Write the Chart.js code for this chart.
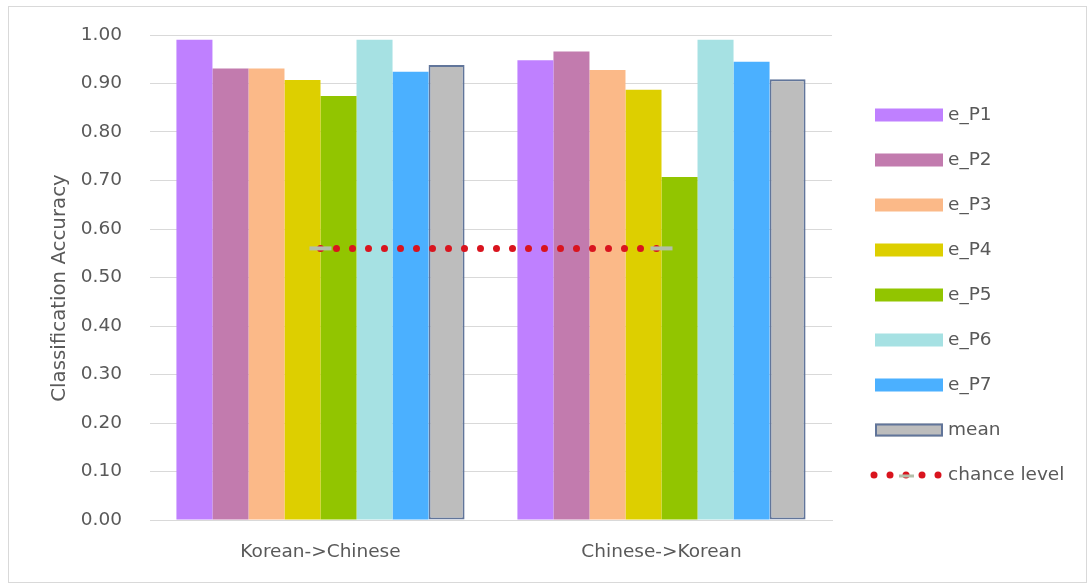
<!DOCTYPE html>
<html>
<head>
<meta charset="utf-8">
<title>Classification Accuracy</title>
<script src="https://cdn.jsdelivr.net/npm/chart.js@4.4.0/dist/chart.umd.min.js"></script>
<style>
    html, body { margin: 0; padding: 0; background: #ffffff; }
    #wrap { position: relative; width: 1089px; height: 583px; }
    #frame { position: absolute; left: 8px; top: 6px; width: 1077px; height: 575px; border: 1px solid #d9d9d9; pointer-events: none; }
</style>
</head>
<body>
<div id="wrap">
    <canvas id="accChart" width="1089" height="583"></canvas>
    <div id="frame"></div>
</div>
<script>
// Data
const categories = ['Korean->Chinese', 'Chinese->Korean'];
const seriesNames = ['e_P1', 'e_P2', 'e_P3', 'e_P4', 'e_P5', 'e_P6', 'e_P7', 'mean'];
const eP1 = [0.990, 0.948];
const eP2 = [0.931, 0.966];
const eP3 = [0.931, 0.928];
const eP4 = [0.907, 0.887];
const eP5 = [0.874, 0.707];
const eP6 = [0.990, 0.990];
const eP7 = [0.924, 0.945];
const meanAcc = [0.938, 0.909];
const chanceLevel = [0.56, 0.56];
const yTicks = [0, 0.1, 0.2, 0.3, 0.4, 0.5, 0.6, 0.7, 0.8, 0.9, 1.0];
const yTitle = 'Classification Accuracy';

const seriesValues = [eP1, eP2, eP3, eP4, eP5, eP6, eP7, meanAcc];
const seriesColors = ['#bf80ff', '#c27bae', '#fbb988', '#ddcf00', '#92c500', '#a6e1e3', '#4bb0ff', '#bdbdbd'];
const meanBorder = '#61759a';
const chanceRed = '#d9141e';
const chanceMarker = '#b3bfaa';
const textColor = '#595959';
const gridColor = '#d9d9d9';
const fontFamily = '"DejaVu Sans", sans-serif';
const labelSize = 18.5;

Chart.defaults.font.family = fontFamily;
Chart.defaults.font.size = labelSize;
Chart.defaults.color = textColor;

// Legend and axis title drawn Excel style
const sideLegend = {
    id: 'sideLegend',
    afterDraw(chart) {
        const ctx = chart.ctx;
        const boxX = 875, boxW = 68, boxH = 13;
        const textX = 948;
        const top = 115, step = 45;

        ctx.save();
        ctx.font = labelSize + 'px ' + fontFamily;
        ctx.textBaseline = 'middle';

        seriesNames.forEach((name, i) => {
            const y = top + i * step;
            ctx.fillStyle = seriesColors[i];
            ctx.fillRect(boxX, y - boxH / 2, boxW, boxH);
            if (name === 'mean') {
                ctx.strokeStyle = meanBorder;
                ctx.lineWidth = 2;
                ctx.strokeRect(boxX + 1, y - boxH / 2 + 1, boxW - 2, boxH - 2);
            }
            ctx.fillStyle = textColor;
            ctx.fillText(name, textX, y);
        });

        // chance level entry: red dots with the grey marker in the middle
        const y = top + seriesNames.length * step;
        ctx.fillStyle = chanceRed;
        [874, 890, 906, 922, 938].forEach(cx => {
            ctx.beginPath();
            ctx.arc(cx, y, 3.5, 0, Math.PI * 2);
            ctx.fill();
        });
        ctx.strokeStyle = chanceMarker;
        ctx.lineWidth = 3;
        ctx.beginPath();
        ctx.moveTo(899, y + 1);
        ctx.lineTo(914, y + 1);
        ctx.stroke();

        ctx.fillStyle = textColor;
        ctx.fillText('chance level', textX, y);

        // y axis title, centred a little below the plot centre like the original
        ctx.font = '19.8px ' + fontFamily;
        ctx.textAlign = 'center';
        ctx.translate(60, 288);
        ctx.rotate(-Math.PI / 2);
        ctx.fillText(yTitle, 0, 0);
        ctx.restore();
    }
};

const barDatasets = seriesNames.map((name, i) => ({
    type: 'bar',
    label: name,
    data: seriesValues[i],
    backgroundColor: seriesColors[i],
    borderColor: name === 'mean' ? meanBorder : seriesColors[i],
    borderWidth: name === 'mean' ? 2 : 0,
    borderSkipped: false,
    order: 1
}));

const chanceDataset = {
    type: 'line',
    label: 'chance level',
    data: chanceLevel,
    borderColor: chanceRed,
    borderWidth: 7,
    borderDash: [0, 16],
    borderCapStyle: 'round',
    fill: false,
    pointStyle: 'line',
    pointRadius: 11,
    pointBorderWidth: 4,
    pointBorderColor: chanceMarker,
    pointBackgroundColor: chanceMarker,
    order: 0
};

new Chart(document.getElementById('accChart'), {
    type: 'bar',
    data: {
        labels: categories,
        datasets: [...barDatasets, chanceDataset]
    },
    options: {
        responsive: false,
        animation: false,
        layout: {
            padding: { top: 35, right: 257, bottom: 0, left: 0 }
        },
        datasets: {
            bar: {
                categoryPercentage: 0.845,
                barPercentage: 1.0
            }
        },
        plugins: {
            legend: { display: false },
            tooltip: { enabled: false }
        },
        scales: {
            x: {
                grid: { display: false },
                border: { display: true, color: gridColor },
                ticks: {
                    padding: 13,
                    color: textColor,
                    font: { size: labelSize }
                },
                afterFit(scale) {
                    scale.height = 63;
                }
            },
            y: {
                min: 0,
                max: 1,
                afterBuildTicks(scale) {
                    scale.ticks = yTicks.map(v => ({ value: v }));
                },
                grid: {
                    color: gridColor,
                    drawTicks: true,
                    tickLength: 28,
                    tickColor: 'rgba(0, 0, 0, 0)'
                },
                border: { display: false },
                ticks: {
                    padding: 0,
                    color: textColor,
                    font: { size: labelSize },
                    callback: function (value) {
                        return Number(value).toFixed(2);
                    }
                },
                afterFit(scale) {
                    scale.width = 150;
                }
            }
        }
    },
    plugins: [sideLegend]
});
</script>
</body>
</html>
